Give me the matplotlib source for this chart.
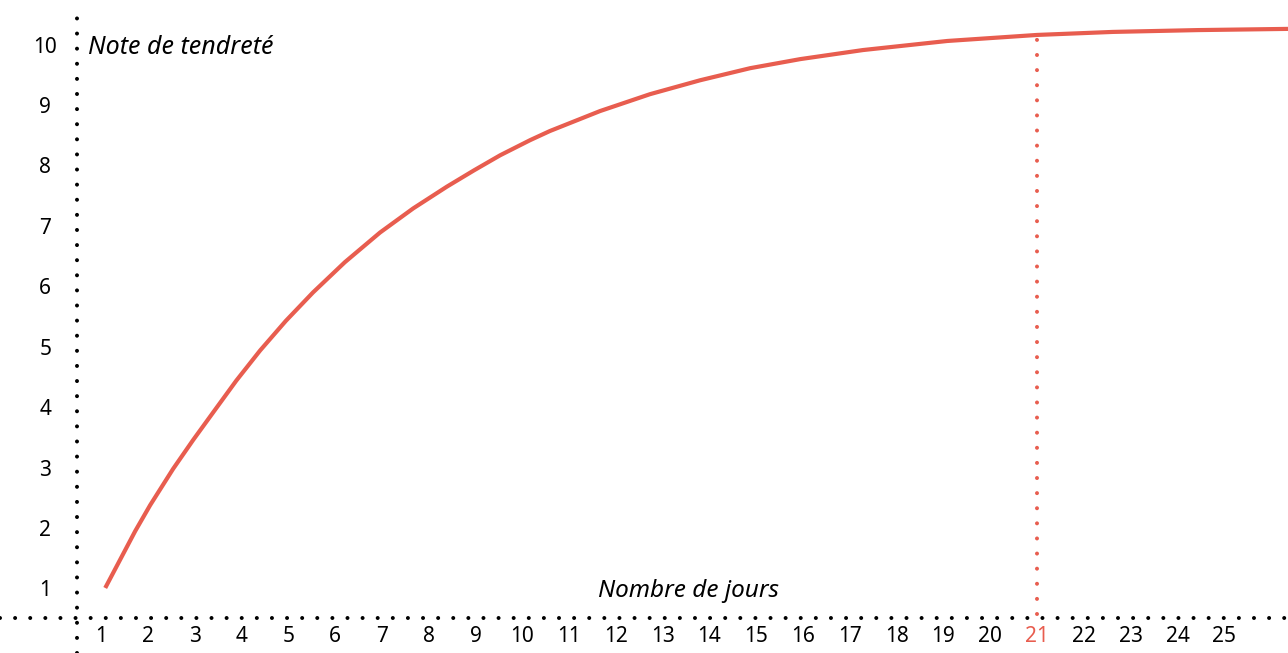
import matplotlib.pyplot as plt

# Data
jours = [1.09, 1.73, 2.05, 2.54, 2.97, 3.42, 3.89, 4.40, 4.95, 5.53, 6.21,
         6.96, 7.67, 8.39, 8.97, 9.53, 10.17, 10.59, 11.66, 12.73, 13.80,
         14.87, 15.94, 17.28, 19.08, 21.0, 22.62, 24.42, 26.36]
note = [1.05, 1.99, 2.42, 3.02, 3.50, 3.98, 4.48, 4.98, 5.47, 5.94, 6.44,
        6.93, 7.33, 7.69, 7.96, 8.21, 8.46, 8.61, 8.94, 9.22, 9.45,
        9.65, 9.80, 9.95, 10.10, 10.20, 10.25, 10.28, 10.30]
x_ticks = list(range(1, 26))
y_ticks = list(range(1, 11))
jour_repere = 21
note_repere = 10.2

red = '#e85d4f'
plt.rcParams['font.family'] = ['Noto Sans', 'DejaVu Sans']

fig = plt.figure(figsize=(12.88, 6.53), dpi=100)
ax = fig.add_axes([0, 0, 1, 1])
ax.set_xlim(-1.158, 26.36)
ax.set_ylim(-0.026, 10.778)
ax.axis('off')

dots = dict(linestyle=(0, (0.001, 3.75)), dash_capstyle='round', linewidth=2.9)

# dotted axes
x_axis_y = 0.553
y_axis_x = 0.487
ax.plot([-1.158, 26.36], [x_axis_y, x_axis_y], color='black', **dots)
ax.plot([y_axis_x, y_axis_x], [-0.026, 10.52], color='black', **dots)

# red marker at day 21
ax.plot([jour_repere, jour_repere], [0.62, note_repere - 0.05], color=red, **dots)

# curve
ax.plot(jours, note, color=red, linewidth=3.0, solid_capstyle='butt', solid_joinstyle='round')

# tick labels
for d in x_ticks:
    ax.text(d, 0.239, str(d), ha='center', va='center', fontsize=15,
            color=red if d == jour_repere else 'black')
for v in y_ticks:
    ax.text(-0.19, v, str(v), ha='center', va='center', fontsize=15)

ax.text(0.73, 10.0, 'Note de tendreté', ha='left', va='center', fontsize=18, style='italic')
ax.text(13.55, 1.0, 'Nombre de jours', ha='center', va='center', fontsize=17.5, style='italic')

fig.savefig('out.png', dpi=100)
